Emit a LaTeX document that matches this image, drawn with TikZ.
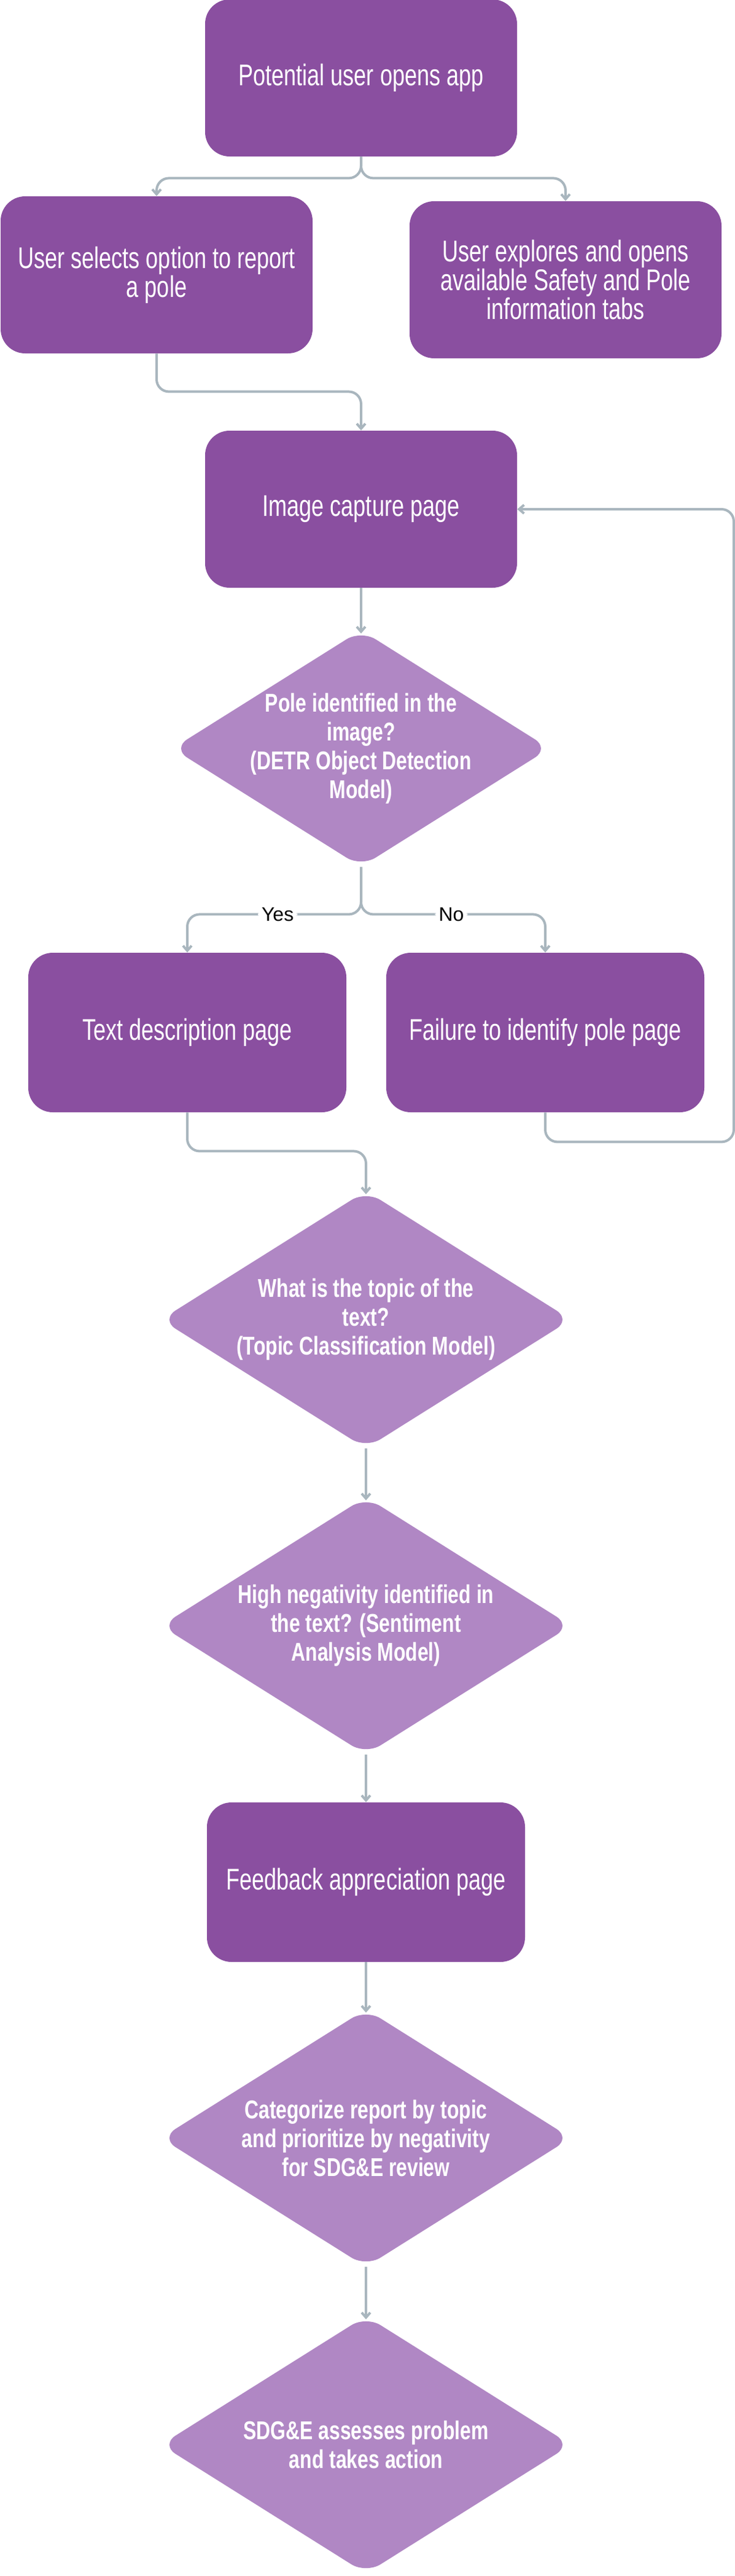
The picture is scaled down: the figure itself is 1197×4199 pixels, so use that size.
\documentclass[tikz,border=0pt]{standalone}
\usepackage{fontspec}
\setmainfont{Liberation Sans}[FakeStretch=0.74]
\newfontfamily\negrito{Liberation Sans Bold}[FakeStretch=0.76]
\newfontfamily\rotulofonte{Liberation Sans}
\usepackage{xcolor}
\usetikzlibrary{shapes.geometric, arrows.meta}

\definecolor{roxo}{HTML}{8A4FA0}
\definecolor{lilas}{HTML}{B087C4}
\definecolor{linha}{HTML}{A9B6BE}

\tikzset{
  caixa/.style={rectangle, rounded corners=20pt, fill=roxo, text=white, align=center,
    minimum width=254pt, minimum height=128pt, font=\fontsize{24.4}{23.5}\selectfont},
  decisao/.style={diamond, rounded corners=14pt, fill=lilas, inner sep=0pt,
    minimum width=334pt, minimum height=210pt},
  textodecisao/.style={text=white, align=center, font=\negrito\fontsize{21}{23.5}\selectfont},
  fluxo/.style={draw=linha, line width=2pt, rounded corners=10pt,
    -{Straight Barb[length=4pt,width=7pt]}},
  ate losango/.style={shorten >=-3pt},
  rotulo/.style={fill=white, text=black, inner xsep=3pt, inner ysep=2pt,
    font=\rotulofonte\fontsize{16}{18}\selectfont}
}

\begin{document}
\begin{tikzpicture}[x=0.5pt, y=-0.5pt]

% Fundo
\fill[white] (0,0) rectangle (1197,4199);
\useasboundingbox (0,0) rectangle (1197,4199);

% Caixas
\node[caixa] (inicio) at (588,127) {Potential user opens app};
\node[caixa] (reporta) at (255,448) {User selects option to report\\a pole};
\node[caixa] (explora) at (921,456) {User explores and opens\\available Safety and Pole\\information tabs};
\node[caixa] (captura) at (588,830) {Image capture page};
\node[caixa, minimum width=259pt, minimum height=130pt] (descricao) at (305,1683) {Text description page};
\node[caixa, minimum width=259pt, minimum height=130pt] (falha) at (888,1683) {Failure to identify pole page};
\node[caixa, minimum width=259pt, minimum height=130pt] (agradece) at (596,3068) {Feedback appreciation page};

% Decisoes
\node[decisao, minimum width=307pt, minimum height=193pt] (poste) at (588,1220) {};
\node[textodecisao] (poste-txt) at (poste) {Pole identified in the\\image?\\(DETR Object Detection\\Model)};
\node[decisao] (topico) at (596,2151) {};
\node[textodecisao] (topico-txt) at (topico) {What is the topic of the\\text?\\(Topic Classification Model)};
\node[decisao] (negativo) at (596,2650) {};
\node[textodecisao] (negativo-txt) at (negativo) {High negativity identified in\\the text? (Sentiment\\Analysis Model)};
\node[decisao] (categoriza) at (596,3485) {};
\node[textodecisao] (categoriza-txt) at (categoriza) {Categorize report by topic\\and prioritize by negativity\\for SDG\&E review};
\node[decisao] (acao) at (596,3985) {};
\node[textodecisao] (acao-txt) at (acao) {SDG\&E assesses problem\\and takes action};

% Setas
\draw[fluxo] (inicio.south) -- ++(0,35) -| (reporta.north);
\draw[fluxo] (inicio.south) -- ++(0,35) -| (explora.north);
\draw[fluxo] (reporta.south) -- ++(0,62) -| (captura.north);
\draw[fluxo, ate losango] (captura.south) -- (poste.north);
\draw[fluxo] (poste.south) -- ++(0,77) -| node[rotulo, pos=0.24] {Yes} (descricao.north);
\draw[fluxo] (poste.south) -- ++(0,77) -| node[rotulo, pos=0.245] {No} (falha.north);

% Volta para a captura
\draw[fluxo] (falha.south) -- ++(0,48) -- ++(307,0) |- (captura.east);

\draw[fluxo, ate losango] (descricao.south) -- ++(0,63) -| (topico.north);
\draw[fluxo, ate losango] (topico.south) -- (negativo.north);
\draw[fluxo] (negativo.south) -- (agradece.north);
\draw[fluxo, ate losango] (agradece.south) -- (categoriza.north);
\draw[fluxo, ate losango] (categoriza.south) -- (acao.north);

\end{tikzpicture}
\end{document}
